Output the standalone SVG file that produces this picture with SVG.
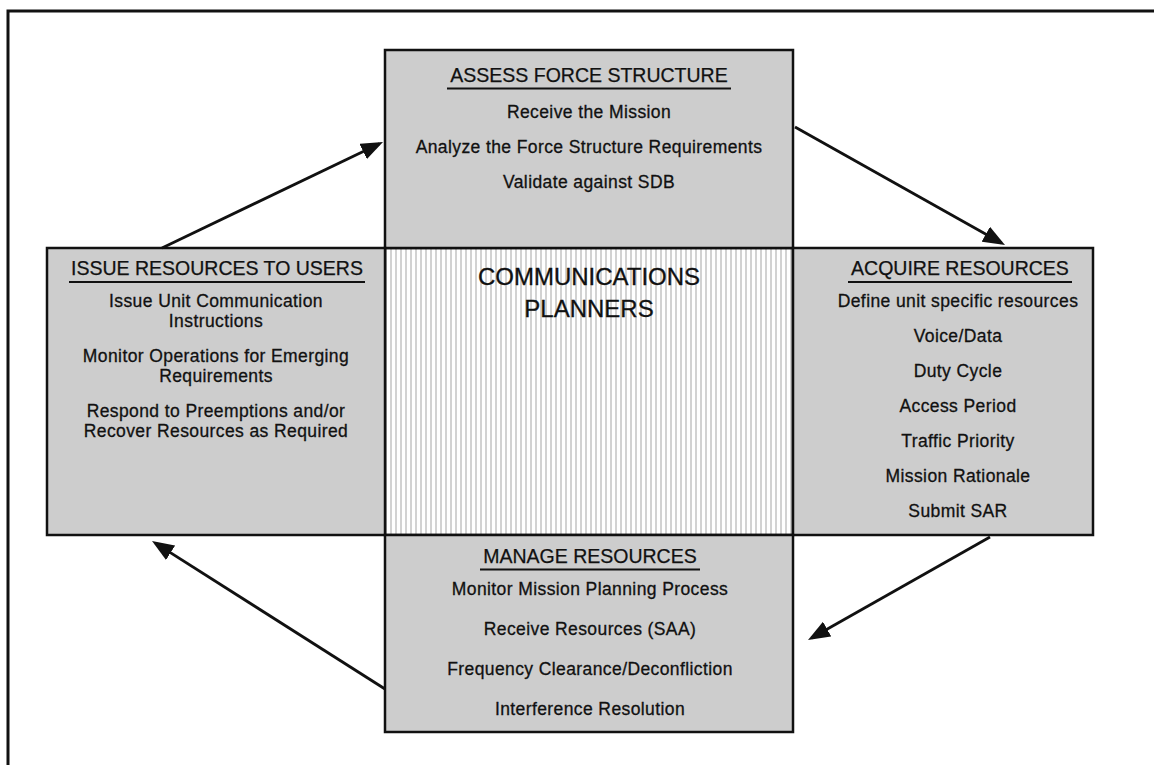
<svg xmlns="http://www.w3.org/2000/svg" width="1154" height="765" viewBox="0 0 1154 765">
<style>
.box{fill:#cdcdcd;stroke:#111;stroke-width:2.5}
.hd{font-family:"Liberation Sans",Arial,sans-serif;font-size:19.5px;fill:#111;stroke:#111;stroke-width:0.25;text-anchor:middle}
.tx{font-family:"Liberation Sans",Arial,sans-serif;font-size:17.5px;letter-spacing:0.4px;fill:#111;stroke:#111;stroke-width:0.3;text-anchor:middle}
.ct{font-family:"Liberation Sans",Arial,sans-serif;font-size:24px;fill:#111;stroke:#111;stroke-width:0.3;text-anchor:middle}
.ul{stroke:#111;stroke-width:2.2}
.conn{stroke:#111;stroke-width:2.8;fill:none;marker-end:url(#ah)}
</style>
<defs>
<pattern id="stripes" width="5" height="10" patternUnits="userSpaceOnUse">
<rect width="5" height="10" fill="#ffffff"/>
<rect x="0" width="2" height="10" fill="#d2d2d2"/>
</pattern>
<marker id="ah" viewBox="0 0 22 17" refX="18" refY="8.5" markerWidth="22" markerHeight="17" markerUnits="userSpaceOnUse" orient="auto">
<path d="M0,0 L22,8.5 L0,17 z" fill="#111"/>
</marker>
</defs>
<rect width="1154" height="765" fill="#ffffff"/>
<path d="M8,765 V11 H1154" fill="none" stroke="#111" stroke-width="3"/>

<g id="center">
<rect x="385" y="248" width="408" height="287" fill="url(#stripes)" stroke="#111" stroke-width="2.5"/>
<text class="ct" x="589" y="285">COMMUNICATIONS</text>
<text class="ct" x="589" y="317">PLANNERS</text>
</g>

<g id="assess">
<rect class="box" x="385" y="50" width="408" height="198"/>
<text class="hd" x="589" y="82">ASSESS FORCE STRUCTURE</text>
<line class="ul" x1="447" y1="88.5" x2="731" y2="88.5"/>
<text class="tx" x="589" y="118">Receive the Mission</text>
<text class="tx" x="589" y="153">Analyze the Force Structure Requirements</text>
<text class="tx" x="589" y="188">Validate against SDB</text>
</g>

<g id="issue">
<rect class="box" x="47" y="248" width="338" height="287"/>
<text class="hd" x="217" y="275">ISSUE RESOURCES TO USERS</text>
<line class="ul" x1="69" y1="282" x2="365" y2="282"/>
<text class="tx" x="216" y="307">Issue Unit Communication</text>
<text class="tx" x="216" y="327">Instructions</text>
<text class="tx" x="216" y="362">Monitor Operations for Emerging</text>
<text class="tx" x="216" y="382">Requirements</text>
<text class="tx" x="216" y="417">Respond to Preemptions and/or</text>
<text class="tx" x="216" y="437">Recover Resources as Required</text>
</g>

<g id="acquire">
<rect class="box" x="793" y="248" width="300" height="287"/>
<text class="hd" x="960" y="275">ACQUIRE RESOURCES</text>
<line class="ul" x1="848" y1="282" x2="1072" y2="282"/>
<text class="tx" x="958" y="307">Define unit specific resources</text>
<text class="tx" x="958" y="342">Voice/Data</text>
<text class="tx" x="958" y="377">Duty Cycle</text>
<text class="tx" x="958" y="412">Access Period</text>
<text class="tx" x="958" y="447">Traffic Priority</text>
<text class="tx" x="958" y="482">Mission Rationale</text>
<text class="tx" x="958" y="517">Submit SAR</text>
</g>

<g id="manage">
<rect class="box" x="385" y="535" width="408" height="197"/>
<text class="hd" x="590" y="563">MANAGE RESOURCES</text>
<line class="ul" x1="480" y1="569.5" x2="700" y2="569.5"/>
<text class="tx" x="590" y="595">Monitor Mission Planning Process</text>
<text class="tx" x="590" y="635">Receive Resources (SAA)</text>
<text class="tx" x="590" y="675">Frequency Clearance/Deconfliction</text>
<text class="tx" x="590" y="715">Interference Resolution</text>
</g>

<g id="connectors">
<line class="conn" x1="162" y1="248" x2="379.4" y2="143.7"/>
<line class="conn" x1="795" y1="127" x2="1001.5" y2="243"/>
<line class="conn" x1="990" y1="537" x2="811.5" y2="638"/>
<line class="conn" x1="385" y1="689" x2="155.4" y2="543.1"/>
</g>
</svg>
